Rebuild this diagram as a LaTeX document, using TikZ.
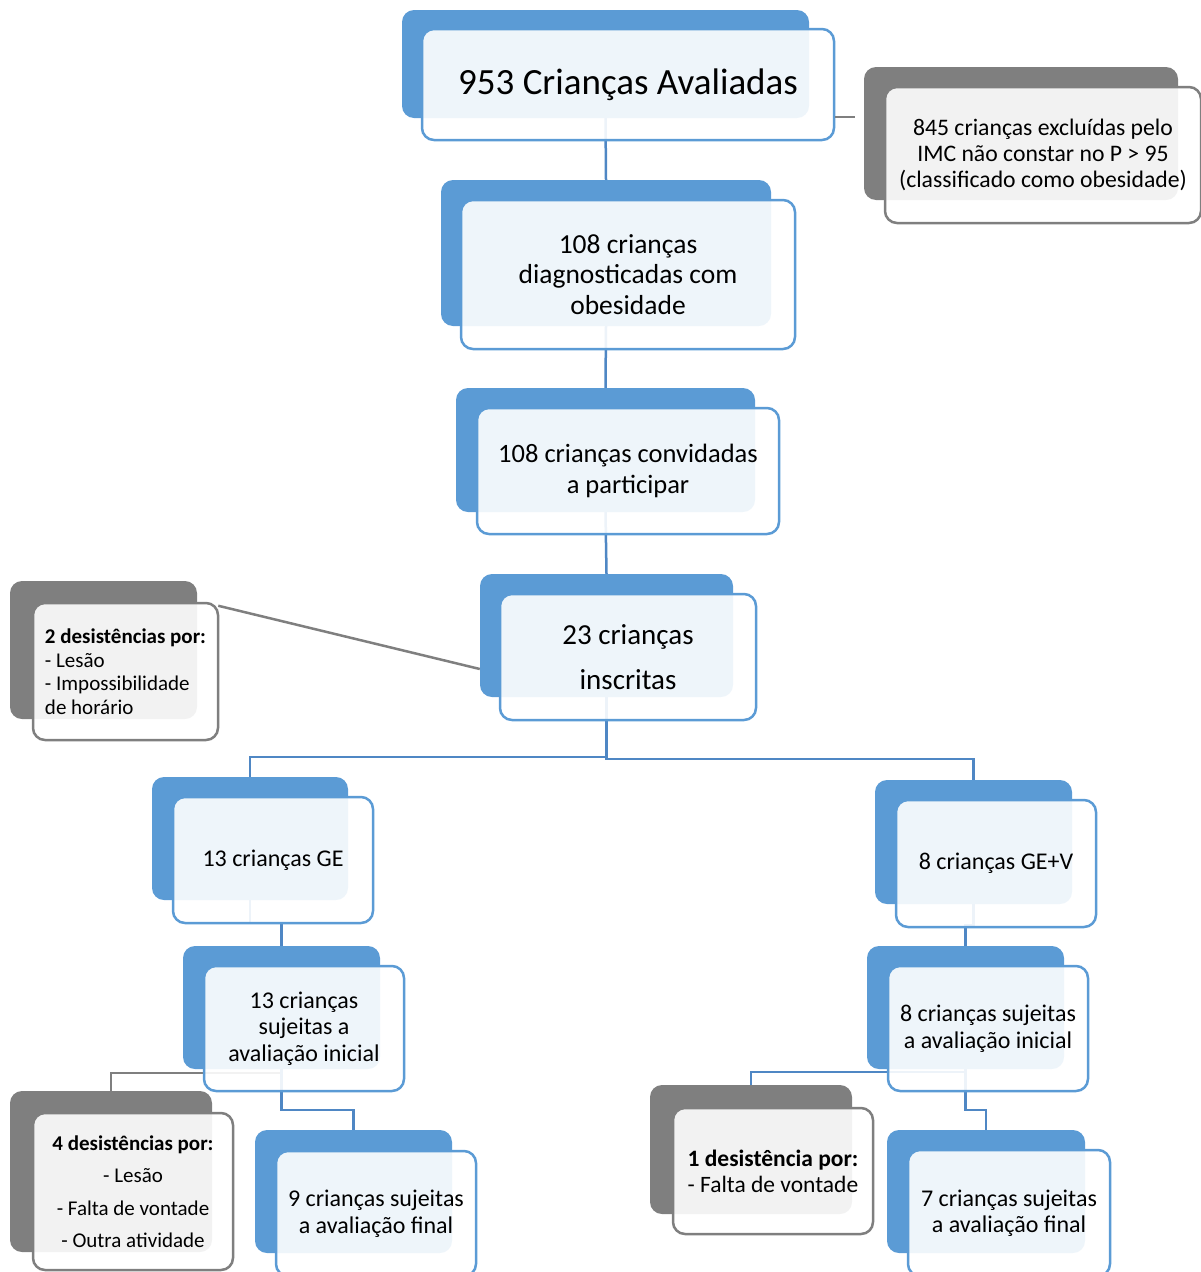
\documentclass[tikz,border=0pt]{standalone}
\usepackage{fontspec}
\setmainfont{Carlito}
\usetikzlibrary{backgrounds}
\definecolor{boxblue}{HTML}{5B9BD5}
\definecolor{boxgrey}{HTML}{7F7F7F}
\definecolor{lnblue}{HTML}{4F87C4}

\begin{document}
\begin{tikzpicture}[x=1pt,y=-1pt,
  bkB/.style={fill=boxblue,rounded corners=12pt,inner sep=0pt},
  bkG/.style={fill=boxgrey,rounded corners=12pt,inner sep=0pt},
  frB/.style={draw=boxblue,line width=2.5pt,fill=white,fill opacity=0.9,text opacity=1,rounded corners=12pt,inner sep=0pt,align=center},
  frG/.style={draw=boxgrey,line width=2.5pt,fill=white,fill opacity=0.9,text opacity=1,rounded corners=12pt,inner sep=0pt,align=center},
  lkB/.style={draw=lnblue,line width=2.5pt},
  lkG/.style={draw=boxgrey,line width=2.5pt}]
\useasboundingbox (0,0) rectangle (1201,1272);
% main column
\node[bkB,minimum width=407pt,minimum height=108pt] (cb0) at (605.5,64) {};
\node[frB,minimum width=412pt,minimum height=111pt,font=\fontsize{37}{44}\selectfont] (cf0) at (628,84.5) {953 Crianças Avaliadas};
\node[bkG,minimum width=314pt,minimum height=133pt] (xb) at (1021,133.5) {};
\node[frG,minimum width=316pt,minimum height=136pt,font=\fontsize{23.7}{26}\selectfont] (xf) at (1043,155) {845 crianças excluídas pelo\\IMC não constar no P > 95\\(classificado como obesidade)};
\node[bkB,minimum width=330pt,minimum height=146pt] (cb1) at (606,253) {};
\node[frB,minimum width=334pt,minimum height=149pt,font=\fontsize{27.5}{30.5}\selectfont] (cf1) at (628,274.5) {108 crianças\\diagnosticadas com\\obesidade};
\node[bkB,minimum width=299pt,minimum height=124pt] (cb2) at (605.5,450) {};
\node[frB,minimum width=302pt,minimum height=126pt,font=\fontsize{26.5}{31}\selectfont] (cf2) at (628,471) {108 crianças convidadas\\a participar};
\node[bkB,minimum width=253pt,minimum height=123pt] (cb3) at (606.5,635.5) {};
\node[frB,minimum width=256pt,minimum height=126pt,font=\fontsize{29}{45}\selectfont] (cf3) at (628,657) {23 crianças\\inscritas};
\node[bkG,minimum width=187pt,minimum height=138pt] (db2) at (103.5,650) {};
\node[frG,minimum width=185pt,minimum height=137pt,align=left,font=\fontsize{21}{23.5}\selectfont] (df2) at (125.5,671.5) {\textbf{2 desistências por:}\\- Lesão\\- Impossibilidade\\de horário};
% two groups
\node[bkB,minimum width=196pt,minimum height=123pt] (gb) at (250,838.5) {};
\node[frB,minimum width=200pt,minimum height=126pt,font=\fontsize{24}{26.5}\selectfont] (gf) at (273,860) {13 crianças GE};
\node[bkB,minimum width=197pt,minimum height=124pt] (vb) at (973.5,842) {};
\node[frB,minimum width=200pt,minimum height=127pt,font=\fontsize{24}{26.5}\selectfont] (vf) at (996,863.5) {8 crianças GE+V};
\node[bkB,minimum width=197pt,minimum height=123pt] (gib) at (281.5,1007.5) {};
\node[frB,minimum width=200pt,minimum height=125pt,font=\fontsize{24}{26.5}\selectfont] (gif) at (304,1028.5) {13 crianças\\sujeitas a\\avaliação inicial};
\node[bkB,minimum width=197pt,minimum height=123pt] (vib) at (965.5,1007.5) {};
\node[frB,minimum width=200pt,minimum height=125pt,font=\fontsize{24}{26.5}\selectfont] (vif) at (988,1028.5) {8 crianças sujeitas\\a avaliação inicial};
\node[bkG,minimum width=202pt,minimum height=161pt] (db4) at (111,1171.5) {};
\node[frG,minimum width=200pt,minimum height=157pt,font=\fontsize{21}{32.5}\selectfont] (df4) at (133,1191.5) {\textbf{4 desistências por:}\\- Lesão\\- Falta de vontade\\- Outra atividade};
\node[bkB,minimum width=197pt,minimum height=123pt] (gfb) at (353.5,1191.5) {};
\node[frB,minimum width=200pt,minimum height=125pt,font=\fontsize{24}{26.5}\selectfont] (gff) at (376,1213.5) {9 crianças sujeitas\\a avaliação final};
\node[bkG,minimum width=202pt,minimum height=129pt] (db1) at (751,1149.5) {};
\node[frG,minimum width=200pt,minimum height=126pt,align=left,font=\fontsize{23.5}{26}\selectfont] (df1) at (773,1171) {\textbf{1 desistência por:}\\- Falta de vontade};
\node[bkB,minimum width=198pt,minimum height=123pt] (vfb) at (986,1191.5) {};
\node[frB,minimum width=202pt,minimum height=126pt,font=\fontsize{24}{26.5}\selectfont] (vff) at (1009,1213) {7 crianças sujeitas\\a avaliação final};
% connectors
\begin{scope}[on background layer]
\draw[lkB] (cb0.south) -- (cb1.north);
\draw[lkB] (cb1.south) -- (cb2.north);
\draw[lkB] (cb2.south) -- (cb3.north);
\draw[lkB] (cb3.south) -- ++(0,60) -| (gb.north);
\draw[lkB] (cb3.south) -- ++(0,62) -| (vb.north);
\draw[lkB] (gb.south) -- ++(0,23) -| (gib.north);
\draw[lkB] (vb.south) -- ++(0,21) -| (vib.north);
\draw[lkG] (gib.south) -- ++(0,4) -| (db4.north);
\draw[lkB] (gib.south) -- ++(0,41) -| (gfb.north);
\draw[lkB] (vib.south) -- ++(0,3) -| (db1.north);
\draw[lkB] (vib.south) -- ++(0,41) -| (vfb.north);
\end{scope}
\draw[lkG,shorten >=9pt] (cf0.east |- 0,117) -- (xb.west |- 0,117);
\draw[lkG] ([xshift=-1pt,yshift=-4pt]df2.north east) -- ([yshift=-33.5pt]cb3.west);
\end{tikzpicture}
\end{document}
